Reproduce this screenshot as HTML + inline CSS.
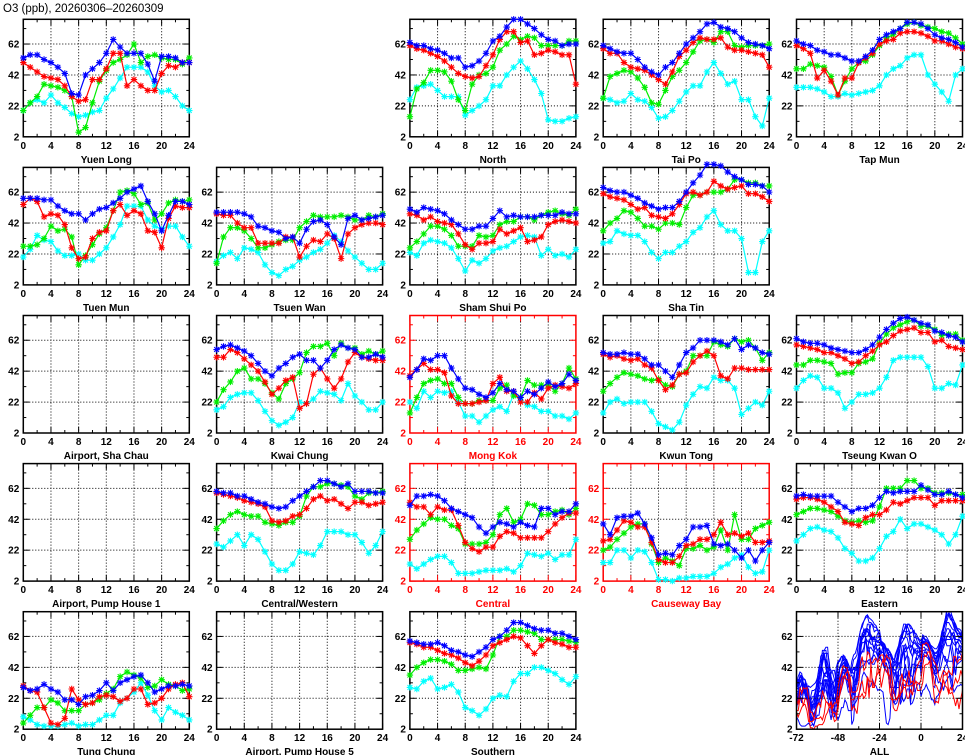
<!DOCTYPE html>
<html><head><meta charset="utf-8"><style>
html,body{margin:0;padding:0;background:#fff;width:965px;height:755px;overflow:hidden}
svg text{font-family:"Liberation Sans",sans-serif}
</style></head><body>
<svg id="s" width="965" height="755" xmlns="http://www.w3.org/2000/svg"></svg>
<script>
const P=[
["Yuen Long",0,0,0,{
b:[53,55,55,52,50,47,43,30,29,42,46,50,56,65,60,56,56,56,49,38,54,54,53,50,50],
r:[50,47,44,41,40,39,35,28,25,26,39,39,46,56,56,35,39,35,32,32,43,48,47,50,50],
g:[19,24,28,36,35,34,32,28,5,8,24,38,45,50,52,55,62,50,54,55,53,52,52,49,53],
c:[19,24,26,24,29,24,21,17,15,16,18,19,27,33,40,47,47,47,44,35,31,32,28,22,19]}],
["North",0,2,0,{
b:[63,61,61,59,58,56,53,53,47,48,51,56,64,67,73,78,78,75,72,68,65,64,61,62,62],
r:[61,59,58,56,54,51,47,43,41,40,41,48,55,65,70,70,63,64,55,56,58,57,55,55,36],
g:[15,33,37,45,45,44,38,26,19,36,42,43,47,58,62,67,65,67,66,61,61,61,61,64,64],
c:[26,34,35,36,32,28,28,28,16,19,22,26,35,35,42,47,51,46,39,30,13,12,12,14,15]}],
["Tai Po",0,3,0,{
b:[61,59,57,56,56,52,47,44,42,47,50,56,62,66,70,75,76,73,72,70,66,63,62,61,59],
r:[59,56,56,50,47,46,45,42,39,36,44,54,58,63,66,65,65,66,60,58,58,57,56,55,47],
g:[27,41,43,45,44,40,34,24,23,32,41,45,50,57,64,65,63,70,70,61,60,61,61,61,62],
c:[27,26,24,25,30,26,25,21,14,15,19,25,31,35,35,44,50,43,36,38,26,26,15,9,27]}],
["Tap Mun",0,4,0,{
b:[64,62,61,58,57,55,55,53,51,51,54,58,65,68,70,72,76,76,75,72,68,66,65,63,60],
r:[61,59,56,40,45,38,29,40,40,50,53,56,62,64,65,69,70,70,69,67,64,64,62,60,59],
g:[46,46,49,48,47,41,29,38,46,50,51,55,61,66,68,72,75,76,74,73,72,70,69,66,62],
c:[34,34,34,33,31,28,28,30,29,30,31,32,35,42,46,48,53,55,55,42,36,31,25,42,46]}],
["Tuen Mun",1,0,0,{
b:[58,58,58,57,57,53,50,48,48,44,48,51,52,55,58,62,64,66,56,48,37,47,56,56,54],
r:[54,58,56,46,48,47,41,26,19,20,32,36,37,50,54,47,50,48,37,36,26,45,53,52,52],
g:[27,27,28,32,40,37,38,33,15,21,28,35,39,50,62,63,61,54,55,44,48,55,57,56,57],
c:[20,25,34,31,30,24,21,21,22,18,18,22,26,33,41,53,53,53,44,40,38,40,40,33,27]}],
["Tsuen Wan",1,1,0,{
b:[49,49,49,49,48,46,40,39,37,36,32,33,29,38,43,44,41,33,28,45,47,44,45,46,47],
r:[48,47,47,42,39,39,29,29,29,29,33,33,20,27,31,30,35,32,19,35,39,41,42,42,41],
g:[16,33,39,39,37,32,26,26,28,30,31,31,39,43,47,46,46,46,47,46,44,44,47,46,48],
c:[17,21,23,19,26,25,23,15,10,8,12,14,18,20,23,25,29,34,30,24,20,16,12,12,16]}],
["Sham Shui Po",1,2,0,{
b:[51,49,52,51,50,48,44,41,38,38,40,40,45,50,46,47,46,46,46,47,47,47,49,48,48],
r:[48,47,44,46,43,42,41,35,28,25,29,29,30,38,35,37,39,30,31,33,41,43,44,43,42],
g:[26,30,35,40,40,38,34,27,27,27,34,33,34,41,43,43,46,46,44,47,49,50,48,47,51],
c:[23,21,29,31,30,29,26,19,11,18,16,19,24,26,27,30,33,34,33,21,25,21,22,20,25]}],
["Sha Tin",1,3,0,{
b:[65,63,62,62,60,58,55,53,51,52,52,56,62,68,73,80,80,79,75,72,70,67,67,66,62],
r:[61,59,58,57,54,51,52,47,46,45,48,54,61,62,60,62,69,66,64,65,66,61,61,59,56],
g:[37,42,45,50,49,45,40,40,38,42,42,41,52,60,60,62,62,62,64,70,70,68,68,66,66],
c:[29,30,37,35,34,34,30,23,19,23,23,27,30,36,39,46,50,41,37,37,32,10,10,30,37]}],
["Airport, Sha Chau",2,0,0,null],
["Kwai Chung",2,1,0,{
b:[56,58,59,57,55,52,47,42,39,44,47,51,53,49,49,44,49,56,59,57,56,51,51,53,51],
r:[51,51,56,54,50,46,42,35,27,31,36,38,18,21,40,44,37,31,37,48,54,51,50,49,49],
g:[22,30,35,42,44,37,37,34,28,24,34,37,41,54,58,58,60,52,60,57,57,53,55,53,55],
c:[17,19,25,27,28,28,23,16,10,7,9,12,22,21,24,29,28,27,23,34,26,22,17,17,22]}],
["Mong Kok",2,2,1,{
b:[38,43,50,49,52,52,44,37,31,30,27,25,28,34,30,29,25,29,27,31,35,32,34,40,36],
r:[39,43,47,43,43,41,26,21,21,21,22,23,34,38,29,29,22,22,28,24,31,33,32,31,34],
g:[15,25,34,36,37,34,34,25,21,21,23,23,23,31,33,26,25,36,33,33,33,29,34,44,37],
c:[22,18,29,25,29,28,29,22,13,13,9,13,17,19,16,27,23,20,19,16,16,13,13,11,15]}],
["Kwun Tong",2,3,0,{
b:[54,53,53,54,53,53,50,46,46,42,38,46,54,57,62,62,62,61,59,63,56,59,57,54,53],
r:[53,51,52,50,49,50,46,44,36,30,33,40,41,48,52,55,52,39,37,44,44,43,43,43,43],
g:[29,34,38,41,40,39,37,36,37,33,32,40,42,52,52,52,61,59,58,63,61,62,57,49,54],
c:[15,22,24,21,22,22,22,16,8,6,4,9,20,27,32,31,38,36,36,31,14,18,22,20,29]}],
["Tseung Kwan O",2,4,0,{
b:[63,61,60,60,59,57,56,55,54,54,56,59,64,69,73,76,77,75,73,72,68,67,65,64,61],
r:[59,58,57,56,54,54,52,50,47,48,52,55,59,61,65,68,69,70,67,67,61,62,58,57,56],
g:[46,46,49,49,48,47,40,41,41,47,48,50,60,66,70,72,74,75,71,71,69,65,66,66,62],
c:[31,36,39,38,31,31,28,18,22,27,27,28,31,38,49,51,51,51,51,45,31,31,34,33,46]}],
["Airport, Pump House 1",3,0,0,null],
["Central/Western",3,1,0,{
b:[60,59,59,57,57,55,53,52,50,49,50,54,57,60,63,67,67,65,63,65,60,60,60,59,59],
r:[59,58,57,56,54,53,52,50,41,40,41,44,45,49,55,57,54,55,52,49,53,53,51,52,53],
g:[36,41,45,47,45,44,44,40,39,38,40,40,44,57,63,63,65,65,64,63,57,55,59,59,60],
c:[26,24,28,32,25,32,29,21,13,9,9,13,21,20,19,25,34,34,34,32,32,27,20,25,34]}],
["Central",3,2,1,{
b:[51,57,57,58,57,54,49,47,45,43,37,33,37,40,39,37,40,38,37,49,49,45,47,47,52],
r:[53,50,50,45,50,48,48,38,27,23,21,24,24,31,34,33,30,30,30,30,34,39,43,46,46],
g:[29,35,39,43,42,42,38,36,26,26,26,27,32,45,49,40,42,52,51,45,45,47,48,45,49],
c:[13,10,13,16,18,18,14,7,7,7,8,9,9,9,10,8,12,20,19,18,20,16,19,19,29]}],
["Causeway Bay",3,3,1,{
b:[39,32,43,44,44,46,39,30,19,20,19,25,29,37,37,38,26,25,26,22,17,22,15,22,27],
r:[28,29,35,41,40,37,37,27,16,14,14,18,25,26,29,29,32,40,32,33,31,33,27,27,28],
g:[22,24,29,33,37,39,39,26,14,17,15,12,23,23,25,22,24,35,22,45,29,29,36,38,40],
c:[14,14,22,22,17,22,21,14,3,3,2,4,4,5,5,5,7,11,13,17,19,11,7,8,22]}],
["Eastern",3,4,0,{
b:[57,58,57,57,57,57,53,50,47,49,49,51,56,60,59,60,60,60,64,61,58,58,60,58,56],
r:[55,56,56,55,53,50,47,40,39,38,43,45,45,48,53,52,54,56,56,56,51,54,54,54,54],
g:[45,47,49,49,48,47,44,41,40,41,40,41,50,62,62,62,67,67,62,62,59,59,59,58,58],
c:[28,32,36,37,35,34,30,23,20,15,15,17,23,31,34,42,36,39,39,37,35,32,26,32,44]}],
["Tung Chung",4,0,0,{
b:[29,27,28,31,28,26,21,21,18,23,24,27,32,27,32,34,36,37,32,26,28,30,30,31,30],
r:[30,27,26,16,6,5,9,28,21,18,19,23,24,23,20,22,28,28,18,19,22,28,31,32,23],
g:[6,11,16,16,21,19,14,14,14,18,19,21,25,28,36,39,37,35,29,30,34,31,30,27,28],
c:[10,8,5,4,4,4,5,6,4,5,5,8,11,11,19,22,26,32,24,14,8,16,13,11,8]}],
["Airport, Pump House 5",4,1,0,null],
["Southern",4,2,0,{
b:[59,58,57,57,58,56,53,52,50,49,52,55,60,62,66,71,71,69,67,66,66,64,64,62,60],
r:[58,57,55,55,53,51,50,48,45,43,46,50,56,58,60,62,61,56,51,56,60,58,57,55,55],
g:[37,42,45,47,47,46,44,40,40,41,42,41,50,62,62,66,66,65,64,60,60,60,60,59,58],
c:[29,28,33,35,28,29,31,26,16,14,11,15,22,24,23,33,38,38,42,42,40,38,34,31,36]}]
];
const W=166,H=117.5;
let o='<text x="3" y="12" font-size="11.5" fill="#000">O3 (ppb), 20260306\u201320260309</text>';
const col={c:'#00ffff',g:'#00ee00',r:'#ff0000',b:'#0000ff'};
function frame(L,T,red,xmin,xmax,xmaj,xmin2,title){
 const fc=red?'#ff0000':'#000';
 const X=v=>L+(v-xmin)/(xmax-xmin)*W, Y=v=>T+H-(v-2)/76*H;
 let s='';
 for(let v=xmin+xmaj;v<xmax;v+=xmaj)s+=`<line x1="${X(v)}" y1="${T}" x2="${X(v)}" y2="${T+H}" stroke="#000" stroke-width="1" stroke-dasharray="1,2"/>`;
 for(const v of [22,42,62])s+=`<line x1="${L}" y1="${Y(v)}" x2="${L+W}" y2="${Y(v)}" stroke="#000" stroke-width="1" stroke-dasharray="1,2"/>`;
 for(let v=xmin;v<=xmax;v+=xmin2){const t=((v-xmin)%xmaj===0)?6:3;s+=`<line x1="${X(v)}" y1="${T}" x2="${X(v)}" y2="${T+t}" stroke="${fc}"/><line x1="${X(v)}" y1="${T+H}" x2="${X(v)}" y2="${T+H-t}" stroke="${fc}"/>`;}
 for(let v=2;v<=78;v+=10){const t=((v-2)%20===0)?6:3;s+=`<line x1="${L}" y1="${Y(v)}" x2="${L+t}" y2="${Y(v)}" stroke="${fc}"/><line x1="${L+W}" y1="${Y(v)}" x2="${L+W-t}" y2="${Y(v)}" stroke="${fc}"/>`;}
 s+=`<rect x="${L}" y="${T}" width="${W}" height="${H}" fill="none" stroke="${fc}" stroke-width="1.5"/>`;
 for(const v of [2,22,42,62])s+=`<text x="${L-4}" y="${Y(v)+3.5}" font-size="10" font-weight="bold" text-anchor="end" fill="${fc}">${v}</text>`;
 for(let v=xmin;v<=xmax;v+=xmaj)s+=`<text x="${X(v)}" y="${T+H+12}" font-size="10" font-weight="bold" text-anchor="middle" fill="${fc}">${v}</text>`;
 s+=`<text x="${L+W/2}" y="${T+H+26}" font-size="10" font-weight="bold" text-anchor="middle" fill="${fc}">${title}</text>`;
 return [s,X,Y];
}
function star(x,y,c){const a=3.2;return `<path d="M${x-a} ${y}H${x+a}M${x} ${y-a}V${y+a}M${x-a*.75} ${y-a*.75}L${x+a*.75} ${y+a*.75}M${x-a*.75} ${y+a*.75}L${x+a*.75} ${y-a*.75}" stroke="${c}" stroke-width="1.1"/>`;}
const allLines=[];
for(const [name,r,c,red,d] of P){
 const L=23.3+193.3*c,T=19.3+148.1*r;
 const [s,X,Y]=frame(L,T,red,0,24,4,2,name);
 o+=s;
 if(d){
  for(const k of ['c','g','r','b']){
   const pts=d[k].map((v,i)=>`${X(i).toFixed(1)},${Y(v).toFixed(1)}`).join(' ');
   o+=`<polyline points="${pts}" fill="none" stroke="${col[k]}" stroke-width="1.2"/>`;
   d[k].forEach((v,i)=>o+=star(X(i),Y(v),col[k]));
  }
  allLines.push([d.c.concat(d.g.slice(1),d.r.slice(1),d.b.slice(1)),red]);
 }
}
{
 const L=23.3+193.3*4,T=19.3+148.1*4;
 const [s,X,Y]=frame(L,T,0,-72,24,24,12,"ALL");
 let l='';
 allLines.sort((a,b)=>a[1]-b[1]);
 for(const [arr,red] of allLines){
  l+=`<polyline points="${arr.map((v,i)=>`${X(i-72).toFixed(1)},${Y(v).toFixed(1)}`).join(' ')}" fill="none" stroke="${red?'#ff0000':'#0000ff'}" stroke-width="1"/>`;
 }
 o+=`<clipPath id="cp"><rect x="${L}" y="${T}" width="${W}" height="${H}"/></clipPath><g clip-path="url(#cp)">${l}</g>`+s;
}
document.getElementById('s').innerHTML=o;
</script>
</body></html>
